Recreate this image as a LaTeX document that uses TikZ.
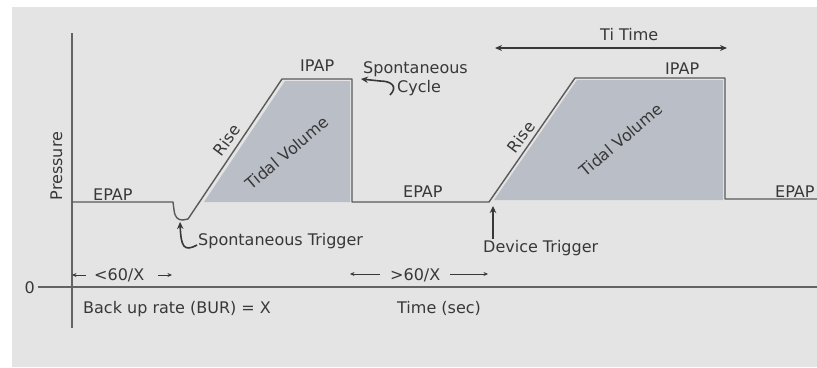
\documentclass[tikz,border=0pt]{standalone}
\usepackage{fontspec}
\setmainfont{DejaVu Sans}
\usetikzlibrary{arrows.meta}
\definecolor{bg}{HTML}{E4E4E4}
\definecolor{ink}{HTML}{474747}
\definecolor{txt}{HTML}{383838}
\definecolor{tv}{HTML}{BABEC6}
\begin{document}
\begin{tikzpicture}[x=1pt,y=-1pt,
  lbl/.style={text=txt, font=\fontsize{16}{18}\selectfont, inner sep=0pt},
  wave/.style={draw=ink!90, line width=1.4pt, line join=round},
  axis/.style={draw=ink!85, line width=1.4pt},
  arr/.style={draw=txt, line width=1.6pt, -{Stealth[length=7pt,width=6.5pt]}},
  sarr/.style={draw=txt, line width=1pt, -{Stealth[length=4.5pt,width=4pt]}},
]
\useasboundingbox (0,0) rectangle (817,367);
\fill[white] (0,0) rectangle (817,367);
\fill[bg] (12,7) rectangle (817,367);

% tidal volume areas
\fill[tv] (204,202) -- (285,81) -- (350,81) -- (350,202) -- cycle;
\fill[tv] (494,200) -- (577,80) -- (723,80) -- (723,200) -- cycle;

% axes
\coordinate (ytop) at (72,33);
\coordinate (ybot) at (72,328);
\coordinate (xl) at (38,287);
\coordinate (xr) at (817,287);
\draw[axis] (ytop) -- (ybot);
\draw[axis] (xl) -- (xr);

% pressure waveform
\coordinate (w0) at (72,202);
\coordinate (w1) at (173,202);
\coordinate (w2) at (188,219);
\coordinate (w3) at (282,79);
\coordinate (w4) at (352,79);
\coordinate (w5) at (352,202);
\coordinate (w6) at (489,202);
\coordinate (w7) at (575,78);
\coordinate (w8) at (725,78);
\coordinate (w9) at (725,199);
\coordinate (w10) at (817,199);
\draw[wave] (w0) -- (w1) -- (174,210) .. controls (175,218) and (178,220) .. (183,220) -- (w2)
  -- (w3) -- (w4) -- (w5) -- (w6) -- (w7) -- (w8) -- (w9) -- (w10);

% labels
\node[lbl, anchor=base, rotate=90] (pres) at (62,166) {Pressure};
\node[lbl, anchor=base west] (epap1) at (93,200) {EPAP};
\node[lbl, anchor=base west] (ipap1) at (300,71) {IPAP};
\node[lbl, anchor=base west] (spont) at (363,73) {Spontaneous};
\node[lbl, anchor=base west] (cycle) at (397,92) {Cycle};
\node[lbl, rotate=53] (rise1) at (227,140) {Rise};
\node[lbl, rotate=40] (tv1) at (287,153) {Tidal Volume};
\node[lbl, anchor=base west] (strig) at (198,245) {Spontaneous Trigger};
\node[lbl, anchor=base west] (epap2) at (403,197) {EPAP};
\node[lbl, anchor=base west] (epap3) at (775,197) {EPAP};
\node[lbl, rotate=53] (rise2) at (521,137) {Rise};
\node[lbl, rotate=40] (tv2) at (621,140) {Tidal Volume};
\node[lbl, anchor=base west] (ipap2) at (665,74) {IPAP};
\node[lbl, anchor=base west] (titime) at (600,40) {Ti Time};
\node[lbl, anchor=base west] (dtrig) at (483,252) {Device Trigger};
\node[lbl, anchor=base west] (lt60) at (94,280) {<60/X};
\node[lbl, anchor=base west] (gt60) at (390,280) {>60/X};
\node[lbl, anchor=base west] (bur) at (83,313) {Back up rate (BUR) = X};
\node[lbl, anchor=base west] (time) at (397,313) {Time (sec)};
\node[lbl, anchor=base east] (zero) at (35,293) {0};

% annotation arrows
\coordinate (sc0) at (390,95);
\coordinate (sc1) at (361,79);
\draw[arr] (sc0) .. controls (398,87) and (392,81) .. (380,81) -- (sc1);
\coordinate (st0) at (197,245);
\coordinate (st1) at (180,222);
\draw[arr] (st0) .. controls (184,252) and (181,247) .. (st1);
\coordinate (dt0) at (493,239);
\coordinate (dt1) at (493,206);
\draw[arr] (dt0) -- (dt1);
\coordinate (ti0) at (495,48);
\coordinate (ti1) at (727,48);
\draw[arr, {Stealth[length=7pt,width=6pt]}-{Stealth[length=7pt,width=6pt]}] (ti0) -- (ti1);
\coordinate (a1) at (86,275); \coordinate (a2) at (72,275);
\coordinate (a3) at (158,275); \coordinate (a4) at (172,275);
\coordinate (a5) at (380,274); \coordinate (a6) at (350,274);
\coordinate (a7) at (450,274); \coordinate (a8) at (488,274);
\draw[sarr] (a1) -- (a2);
\draw[sarr] (a3) -- (a4);
\draw[sarr] (a5) -- (a6);
\draw[sarr] (a7) -- (a8);
\end{tikzpicture}
\end{document}
